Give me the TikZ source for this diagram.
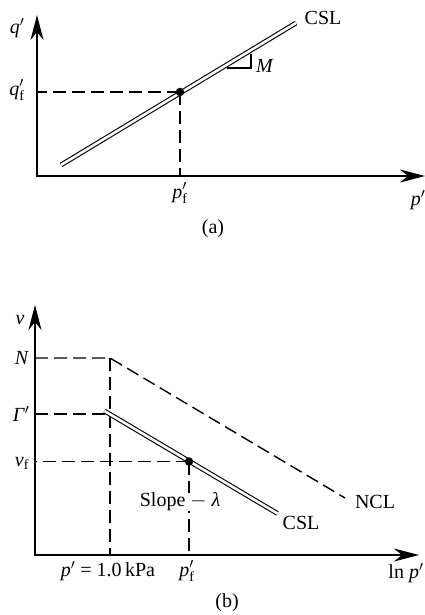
\documentclass[tikz,border=0pt]{standalone}
\usepackage{fontspec}
\setmainfont{Liberation Serif}
\usetikzlibrary{arrows.meta}
\tikzset{
  axis/.style={line width=1.5pt,-{Stealth[length=25pt,width=13pt,inset=8pt]}},
  dashline/.style={line width=1.4pt,dash pattern=on 13pt off 6pt},
  csl/.style={double,double distance=2.6pt,line width=1.1pt},
  dotpt/.style={circle,fill=black,inner sep=0pt,minimum size=8.5pt},
  lab/.style={inner sep=1pt,font=\fontsize{20}{23}\selectfont}
}
\begin{document}
\begin{tikzpicture}[x=1pt,y=-1pt]
\useasboundingbox (0,0) rectangle (425,615);
% ---------- panel (a) ----------
\coordinate (Ao) at (37,176);
\coordinate (Ay) at (37,15);
\coordinate (Ax) at (425,176);
\draw[axis] ([yshift=-0.7pt]Ao) -- (Ay);
\draw[axis] ([xshift=-0.7pt]Ao) -- (Ax);
\coordinate (Ca) at (61,165);
\coordinate (Cb) at (296,23);
\draw[csl] (Ca) -- (Cb);
\node[dotpt] (Fa) at (180,92) {};
\draw[dashline] (Fa.center) -- (Fa.center -| Ao);
\draw[dashline] (Fa.center) -- (Fa.center |- Ao);
\coordinate (Mt) at (251,54);
\coordinate (Mc) at (251,68);
\coordinate (Ml) at (227,68);
\draw[line width=1.2pt] (Mt) -- (Mc) -- (Ml);
\node[lab] (M) at (265,66) {\textit{M}};
\node[lab] (CSLa) at (323,18) {CSL};
\node[lab] (qa) at (17,28) {\textit{q}$'$};
\node[lab] (qf) at (17,90) {\textit{q}$'_{\mathrm{f}}$};
\node[lab] (pf) at (180,193) {\textit{p}$'_{\mathrm{f}}$};
\node[lab] (pa) at (418,200) {\textit{p}$'$};
\node[lab] (capa) at (213,229) {(a)};
% ---------- panel (b) ----------
\coordinate (Bo) at (35,555);
\coordinate (By) at (35,305);
\coordinate (Bx) at (419,555);
\draw[axis] ([yshift=-0.7pt]Bo) -- (By);
\draw[axis] ([xshift=-0.7pt]Bo) -- (Bx);
\coordinate (Nn) at (110,358);
\coordinate (Ne) at (345,498);
\draw[dashline] (Nn -| Bo) -- (Nn) -- (Ne);
\draw[dashline] (Nn) -- (Nn |- Bo);
\coordinate (Cs) at (104.5,411);
\coordinate (Ce) at (277.5,513.5);
\draw[dashline] (35,414) -- (107,414);
\draw[csl] (Cs) -- (Ce);
\node[dotpt] (Fb) at (189,461.5) {};
\draw[dashline] (Fb.center) -- (Fb.center -| Bo);
\draw[dashline] (Fb.center) -- (Fb.center |- Bo);
\node[lab,fill=white,inner sep=0pt] (slope) at (180,502) {Slope $-$ \textit{λ}};
\node[lab] (vb) at (20,320) {\textit{v}};
\node[lab] (Nl) at (22,358) {\textit{N}};
\node[lab] (Gl) at (21,414) {\textit{Γ}$'$};
\node[lab] (vf) at (22,463) {\textit{v}$_{\mathrm{f}}$};
\node[lab] (NCL) at (375,502) {NCL};
\node[lab] (CSLb) at (301,523) {CSL};
\node[lab] (p1) at (108,571) {\textit{p}$'$ = 1.0\,kPa};
\node[lab] (pfb) at (187,571) {\textit{p}$'_{\mathrm{f}}$};
\node[lab] (lnp) at (406,573) {ln \textit{p}$'$};
\node[lab] (capb) at (227,603) {(b)};
\end{tikzpicture}
\end{document}
